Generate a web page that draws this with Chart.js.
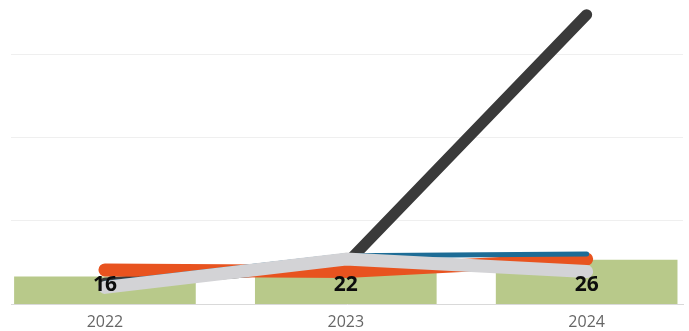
<!DOCTYPE html>
<html>
<head>
    <meta charset="utf-8">
    <script src="https://cdn.jsdelivr.net/npm/chart.js@4.4.0/dist/chart.umd.min.js"></script>
    <style>
        html, body { margin: 0; padding: 0; background: #fff; overflow: hidden; }
        #wrap { width: 689px; height: 331px; }
    </style>
</head>
<body>
    <div id="wrap"><canvas id="myChart" width="689" height="331"></canvas></div>
    <script>
        // data
        const years = ['2022', '2023', '2024'];
        const barValues = [16, 22, 26];
        const darkLine = [2.5, 4.8, 34.8];
        const blueLine = [2.5, 5.8, 6.0];
        const orangeLine = [4.1, 3.9, 5.4];
        const greyLine = [2.0, 5.4, 3.9];

        const toPoints = arr => arr.map((v, i) => ({ x: i, y: v }));

        function lineSet(arr, color, width, order) {
            return {
                type: 'line',
                data: toPoints(arr),
                borderColor: color,
                backgroundColor: color,
                borderWidth: width,
                borderCapStyle: 'round',
                borderJoinStyle: 'round',
                pointRadius: 0,
                tension: 0,
                clip: false,
                yAxisID: 'y',
                order: order
            };
        }

        // draw bar value labels near the base of each bar
        const barLabels = {
            id: 'barLabels',
            afterDatasetsDraw(chart) {
                const ctx = chart.ctx;
                const meta = chart.getDatasetMeta(0);
                ctx.save();
                ctx.font = 'bold 21px "Open Sans", sans-serif';
                ctx.fillStyle = '#0d0d0d';
                ctx.textAlign = 'center';
                ctx.textBaseline = 'middle';
                meta.data.forEach((bar, i) => {
                    ctx.fillText(String(barValues[i]), bar.x, bar.base - 19);
                });
                ctx.restore();
            }
        };

        const ctx = document.getElementById('myChart').getContext('2d');
        const myChart = new Chart(ctx, {
            type: 'bar',
            data: {
                datasets: [
                    {
                        type: 'bar',
                        data: toPoints(barValues),
                        backgroundColor: '#b8c98a',
                        barThickness: 181,
                        yAxisID: 'y1',
                        order: 10
                    },
                    lineSet(darkLine, '#3a3a3a', 11, 5),
                    lineSet(orangeLine, '#e8531f', 13, 4),
                    lineSet(blueLine, '#1d6c96', 5, 3),
                    lineSet(greyLine, '#d3d3d6', 13, 2)
                ]
            },
            options: {
                responsive: false,
                animation: false,
                layout: { padding: { top: 13, left: 11, right: 6, bottom: 0 } },
                plugins: {
                    legend: { display: false },
                    tooltip: { enabled: false }
                },
                scales: {
                    x: {
                        type: 'linear',
                        offset: false,
                        min: -0.39,
                        max: 2.4,
                        afterBuildTicks: s => { s.ticks = years.map((y, i) => ({ value: i })); },
                        afterFit: s => { s.height = 27; },
                        grid: { display: false, drawTicks: false },
                        border: { display: true, color: '#d9d9d9', width: 1 },
                        ticks: {
                            padding: 9,
                            color: '#666',
                            font: { family: '"Open Sans", sans-serif', size: 16 },
                            callback: v => years[v]
                        }
                    },
                    y: {
                        min: 0,
                        max: 35,
                        afterFit: s => { s.width = 0; },
                        ticks: { display: false, stepSize: 10 },
                        grid: {
                            drawTicks: false,
                            color: c => (c.tick && c.tick.value % 10 === 0 && c.tick.value > 0) ? '#efefef' : 'rgba(0,0,0,0)'
                        },
                        border: { display: false }
                    },
                    y1: {
                        display: false,
                        min: 0,
                        max: 172
                    }
                }
            },
            plugins: [barLabels]
        });
    </script>
</body>
</html>
